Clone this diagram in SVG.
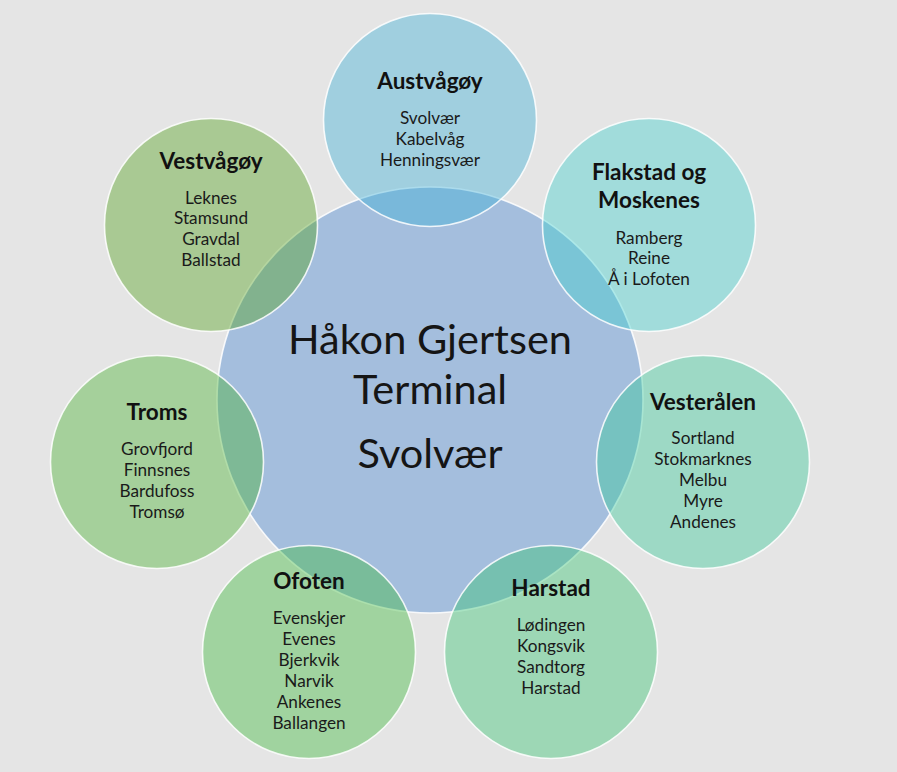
<svg xmlns="http://www.w3.org/2000/svg" width="897" height="772" viewBox="0 0 897 772">
  <style>
    .ring { stroke: #ffffff; stroke-width: 1.6; stroke-opacity: 0.85; }
    .sat { fill-opacity: 0.4; }
    .title { font-family: Lato, "Liberation Sans", sans-serif; font-weight: bold; font-size: 22.5px; fill: #111111; text-anchor: middle; }
    .item { font-family: Lato, "Liberation Sans", sans-serif; font-size: 17.2px; fill: #1a1a1a; text-anchor: middle; }
    .big { font-family: Lato, "Liberation Sans", sans-serif; font-size: 41.5px; fill: #151515; text-anchor: middle; }
  </style>
  <rect x="0" y="0" width="897" height="772" fill="#e5e5e5"/>

  <g id="center">
    <circle class="ring" cx="430" cy="400" r="213" fill="#a4bedd"/>
    <text class="big" x="430" y="354">Håkon Gjertsen</text>
    <text class="big" x="430" y="404">Terminal</text>
    <text class="big" x="430" y="468">Svolvær</text>
  </g>

  <g id="austvagoy">
    <circle class="ring sat" cx="430" cy="120" r="106.5" fill="#39b0d8"/>
    <text class="title" x="430" y="89">Austvågøy</text>
    <text class="item" x="430" y="124">Svolvær</text>
    <text class="item" x="430" y="145">Kabelvåg</text>
    <text class="item" x="430" y="166">Henningsvær</text>
  </g>

  <g id="flakstad-moskenes">
    <circle class="ring sat" cx="649" cy="225" r="106.5" fill="#3dcfcc"/>
    <text class="title" x="649" y="180">Flakstad og</text>
    <text class="title" x="649" y="208">Moskenes</text>
    <text class="item" x="649" y="244">Ramberg</text>
    <text class="item" x="649" y="264">Reine</text>
    <text class="item" x="649" y="285">Å i Lofoten</text>
  </g>

  <g id="vesteralen">
    <circle class="ring sat" cx="703" cy="462" r="106.5" fill="#31c797"/>
    <text class="title" x="703" y="410">Vesterålen</text>
    <text class="item" x="703" y="444">Sortland</text>
    <text class="item" x="703" y="465">Stokmarknes</text>
    <text class="item" x="703" y="486">Melbu</text>
    <text class="item" x="703" y="507">Myre</text>
    <text class="item" x="703" y="528">Andenes</text>
  </g>

  <g id="harstad">
    <circle class="ring sat" cx="551" cy="652" r="106.5" fill="#31c46d"/>
    <text class="title" x="551" y="596">Harstad</text>
    <text class="item" x="551" y="631">Lødingen</text>
    <text class="item" x="551" y="652">Kongsvik</text>
    <text class="item" x="551" y="673">Sandtorg</text>
    <text class="item" x="551" y="694">Harstad</text>
  </g>

  <g id="ofoten">
    <circle class="ring sat" cx="309" cy="652" r="106.5" fill="#39ba38"/>
    <text class="title" x="309" y="589">Ofoten</text>
    <text class="item" x="309" y="624">Evenskjer</text>
    <text class="item" x="309" y="645">Evenes</text>
    <text class="item" x="309" y="666">Bjerkvik</text>
    <text class="item" x="309" y="687">Narvik</text>
    <text class="item" x="309" y="708">Ankenes</text>
    <text class="item" x="309" y="729">Ballangen</text>
  </g>

  <g id="troms">
    <circle class="ring sat" cx="157" cy="462" r="106.5" fill="#45b12c"/>
    <text class="title" x="157" y="420">Troms</text>
    <text class="item" x="157" y="455">Grovfjord</text>
    <text class="item" x="157" y="476">Finnsnes</text>
    <text class="item" x="157" y="497">Bardufoss</text>
    <text class="item" x="157" y="518">Tromsø</text>
  </g>

  <g id="vestvagoy">
    <circle class="ring sat" cx="211" cy="225" r="106.5" fill="#4f9f18"/>
    <text class="title" x="211" y="169">Vestvågøy</text>
    <text class="item" x="211" y="204">Leknes</text>
    <text class="item" x="211" y="224">Stamsund</text>
    <text class="item" x="211" y="245">Gravdal</text>
    <text class="item" x="211" y="266">Ballstad</text>
  </g>

  <g id="connectors"/>
</svg>
